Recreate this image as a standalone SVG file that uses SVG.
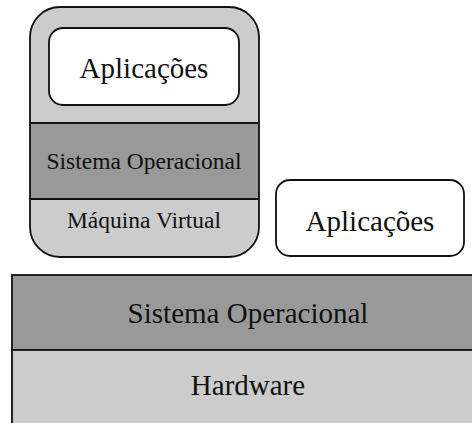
<svg xmlns="http://www.w3.org/2000/svg" width="472" height="423" viewBox="0 0 472 423">
  <style>
    .box { stroke: #111; stroke-width: 1.8; }
    .light { fill: #cccccc; }
    .dark { fill: #999999; }
    .white { fill: #ffffff; }
    .lbl { font-family: "Liberation Serif", "Times New Roman", serif; fill: #111; text-anchor: middle; }
  </style>
  <defs>
    <clipPath id="vmClip">
      <rect x="30" y="7" width="229" height="250" rx="30" ry="30"/>
    </clipPath>
  </defs>

  <!-- Virtual machine stack -->
  <g id="vm">
    <rect class="light" x="30" y="7" width="229" height="250" rx="30" ry="30"/>
    <g clip-path="url(#vmClip)">
      <rect class="dark" x="20" y="123" width="250" height="76"/>
      <line class="box" x1="20" y1="123" x2="270" y2="123"/>
      <line class="box" x1="20" y1="199" x2="270" y2="199"/>
    </g>
    <rect class="box" fill="none" x="30" y="7" width="229" height="250" rx="30" ry="30"/>
    <text class="lbl" x="144" y="169" font-size="23.5">Sistema Operacional</text>
    <text class="lbl" x="144" y="228" font-size="23.5">Máquina Virtual</text>
  </g>

  <g id="vm-apps">
    <rect class="box white" x="49" y="28" width="190" height="77" rx="14" ry="14"/>
    <text class="lbl" x="144" y="78" font-size="29">Aplicações</text>
  </g>

  <g id="host-apps">
    <rect class="box white" x="276" y="180" width="188" height="76" rx="14" ry="14"/>
    <text class="lbl" x="370" y="231" font-size="29">Aplicações</text>
  </g>

  <!-- Host layers -->
  <g id="host-os">
    <rect class="box dark" x="12" y="275" width="470" height="75"/>
    <text class="lbl" x="248" y="323" font-size="29">Sistema Operacional</text>
  </g>

  <g id="hardware">
    <rect class="box light" x="12" y="350" width="470" height="80"/>
    <text class="lbl" x="248" y="395" font-size="29">Hardware</text>
  </g>

  <g id="connectors"/>
</svg>
